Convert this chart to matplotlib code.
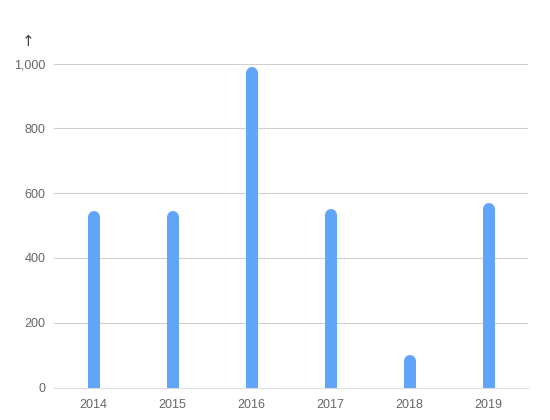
import matplotlib
matplotlib.use("Agg")
import matplotlib.pyplot as plt
import numpy as np

years = ["2014", "2015", "2016", "2017", "2018", "2019"]
values = [545, 545, 990, 550, 100, 570]
yticks = [0, 200, 400, 600, 800, 1000]
ytick_labels = ["0", "200", "400", "600", "800", "1,000"]

plt.rcParams['font.family'] = ['Liberation Sans', 'DejaVu Sans']

W, H, DPI = 550, 420, 100
fig = plt.figure(figsize=(W / DPI, H / DPI), dpi=DPI)
left, right, bottom, top = 54 / W, 528 / W, (H - 387.5) / H, (H - 63.5) / H
ax = fig.add_axes([left, bottom, right - left, top - bottom])

ymax = 1000
ax.set_ylim(0, ymax)
ax.set_xlim(0, len(years))

bar_px = 12
axes_h_px = (top - bottom) * H
r_data = (bar_px / 2) * ymax / axes_h_px
lw_pt = bar_px * 72 / DPI

x = np.arange(len(years)) + 0.5
ax.vlines(x, -r_data * 2, np.array(values) - r_data, colors="#60a5fa",
          linewidth=lw_pt, capstyle="round", zorder=3)

ax.set_yticks(yticks)
ax.set_yticklabels(ytick_labels)
ax.set_xticks(x)
ax.set_xticklabels(years)
ax.grid(axis="y", color="#d0d0d0", linewidth=0.8, zorder=0)
ax.set_axisbelow(True)
for s in ["left", "right", "top"]:
    ax.spines[s].set_visible(False)
ax.spines["bottom"].set_color("#dcdcdc")
ax.spines["bottom"].set_linewidth(0.8)
ax.spines["bottom"].set_zorder(4)
ax.tick_params(axis="both", length=0, colors="#666666", labelsize=9)
ax.tick_params(axis="y", pad=6)
ax.tick_params(axis="x", pad=8)

fig.text(28 / W, (H - 42) / H, "↑", ha="center", va="center",
         fontsize=11, color="#444444", family=["DejaVu Sans"])

fig.savefig("out.png", dpi=DPI)
